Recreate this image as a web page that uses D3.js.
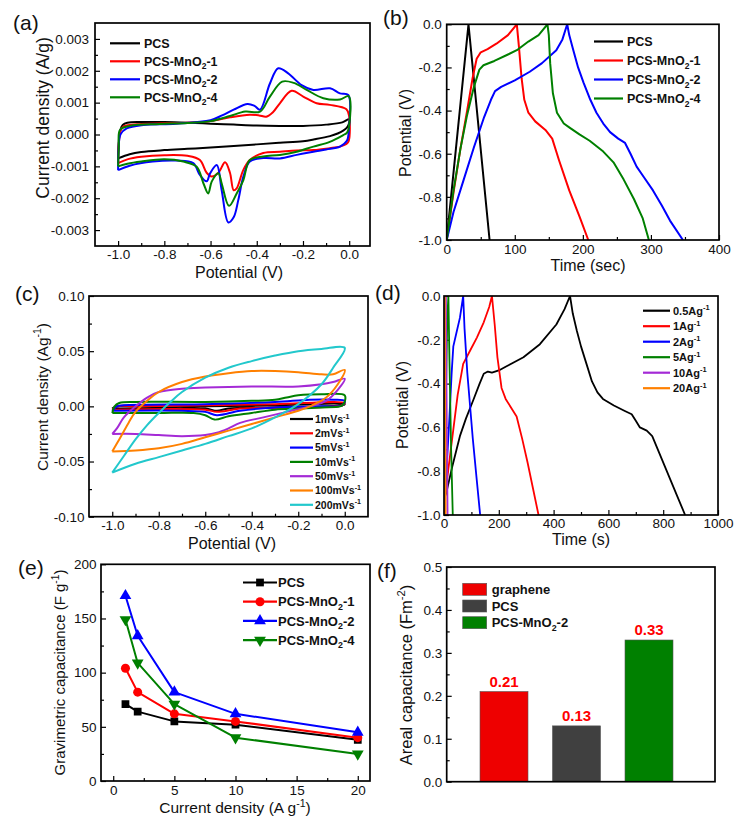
<!DOCTYPE html>
<html>
<head>
<meta charset="utf-8">
<script src="https://cdn.jsdelivr.net/npm/d3@7"></script>
<style>
  body { margin: 0; background: #fff; }
  text { font-family: "Liberation Sans", Arial, sans-serif; }
</style>
</head>
<body>
<svg id="fig" width="739" height="826"></svg>
<script>
// ---------- (a) CV curves, [potential V, current density A/g] ----------
var cvPCS = [[-1.0,-0.75e-3],[-0.997,-0.2e-3],[-0.99,0.15e-3],[-0.98,0.3e-3],[-0.96,0.37e-3],[-0.9,0.39e-3],[-0.8,0.39e-3],[-0.7,0.37e-3],[-0.6,0.34e-3],[-0.5,0.31e-3],[-0.4,0.28e-3],[-0.3,0.27e-3],[-0.2,0.27e-3],[-0.1,0.31e-3],[-0.03,0.38e-3],[0.0,0.48e-3],
  [-0.003,0.3e-3],[-0.012,0.2e-3],[-0.026,0.12e-3],[-0.05,0.03e-3],[-0.083,-0.05e-3],[-0.15,-0.15e-3],[-0.2,-0.21e-3],[-0.3,-0.26e-3],[-0.4,-0.31e-3],[-0.5,-0.36e-3],[-0.6,-0.41e-3],[-0.7,-0.45e-3],[-0.8,-0.49e-3],[-0.9,-0.55e-3],[-0.95,-0.62e-3],[-1.0,-0.75e-3]];
var cvMn1 = [[-1.0,-0.9e-3],[-0.997,-0.3e-3],[-0.99,0.1e-3],[-0.977,0.25e-3],[-0.9,0.33e-3],[-0.8,0.35e-3],[-0.7,0.37e-3],[-0.6,0.42e-3],[-0.516,0.54e-3],[-0.43,0.62e-3],[-0.39,0.6e-3],[-0.359,0.56e-3],[-0.33,0.7e-3],[-0.3,0.98e-3],[-0.249,1.37e-3],[-0.199,1.19e-3],[-0.141,0.98e-3],[-0.084,0.93e-3],[-0.012,0.79e-3],[0.0,0.56e-3],
  [-0.002,-0.2e-3],[-0.012,-0.3e-3],[-0.04,-0.38e-3],[-0.084,-0.43e-3],[-0.155,-0.49e-3],[-0.227,-0.5e-3],[-0.3,-0.54e-3],[-0.372,-0.58e-3],[-0.43,-0.8e-3],[-0.458,-1.11e-3],[-0.487,-1.69e-3],[-0.5,-1.75e-3],[-0.516,-1.2e-3],[-0.537,-0.87e-3],[-0.566,-1.2e-3],[-0.595,-1.32e-3],[-0.617,-1.2e-3],[-0.646,-0.8e-3],[-0.7,-0.67e-3],[-0.8,-0.65e-3],[-0.9,-0.7e-3],[-0.96,-0.78e-3],[-1.0,-0.9e-3]];
var cvMn2 = [[-1.0,-1.12e-3],[-0.998,-0.5e-3],[-0.99,0.0],[-0.963,0.19e-3],[-0.89,0.3e-3],[-0.75,0.34e-3],[-0.6,0.45e-3],[-0.55,0.6e-3],[-0.5,0.78e-3],[-0.44,0.96e-3],[-0.41,0.9e-3],[-0.386,0.78e-3],[-0.343,1.6e-3],[-0.307,2.08e-3],[-0.264,1.92e-3],[-0.206,1.55e-3],[-0.155,1.4e-3],[-0.083,1.45e-3],[-0.04,1.29e-3],[-0.004,1.24e-3],
  [-0.001,0.2e-3],[-0.01,-0.2e-3],[-0.04,-0.38e-3],[-0.1,-0.47e-3],[-0.155,-0.54e-3],[-0.227,-0.64e-3],[-0.3,-0.75e-3],[-0.372,-0.74e-3],[-0.43,-0.85e-3],[-0.458,-1.32e-3],[-0.48,-2.06e-3],[-0.5,-2.6e-3],[-0.523,-2.76e-3],[-0.552,-1.74e-3],[-0.573,-0.96e-3],[-0.602,-1.22e-3],[-0.617,-1.47e-3],[-0.646,-1.27e-3],[-0.675,-0.9e-3],[-0.746,-0.82e-3],[-0.85,-0.85e-3],[-0.95,-0.98e-3],[-1.0,-1.12e-3]];
var cvMn4 = [[-1.0,-1.0e-3],[-0.997,-0.4e-3],[-0.992,0.14e-3],[-0.949,0.27e-3],[-0.82,0.33e-3],[-0.7,0.36e-3],[-0.6,0.42e-3],[-0.516,0.58e-3],[-0.45,0.72e-3],[-0.386,0.72e-3],[-0.343,1.19e-3],[-0.29,1.66e-3],[-0.24,1.62e-3],[-0.184,1.4e-3],[-0.112,1.14e-3],[-0.04,1.1e-3],[-0.002,1.2e-3],
  [-0.001,0.25e-3],[-0.01,0.05e-3],[-0.026,-0.02e-3],[-0.084,-0.23e-3],[-0.155,-0.38e-3],[-0.227,-0.54e-3],[-0.3,-0.64e-3],[-0.372,-0.69e-3],[-0.43,-0.8e-3],[-0.458,-1.43e-3],[-0.487,-1.85e-3],[-0.52,-2.24e-3],[-0.552,-1.53e-3],[-0.566,-1.22e-3],[-0.595,-1.48e-3],[-0.61,-1.85e-3],[-0.631,-1.53e-3],[-0.66,-1.01e-3],[-0.718,-0.85e-3],[-0.8,-0.78e-3],[-0.9,-0.85e-3],[-0.96,-0.92e-3],[-1.0,-1.0e-3]];

// ---------- (b) GCD, [time s, potential V] ----------
var gcdPCS = [[0,-1.0],[32,0.0],[63,-1.0]];
var gcdMn1 = [[0,-1.0],[10,-0.78],[20,-0.58],[30,-0.4],[38,-0.25],[44,-0.16],[50,-0.13],[60,-0.115],[73,-0.09],[90,-0.05],[103,0.0],[106,-0.1],[110,-0.25],[114,-0.35],[120,-0.41],[130,-0.45],[145,-0.49],[155,-0.53],[165,-0.63],[180,-0.77],[195,-0.89],[208,-1.0]];
var gcdMn2 = [[0,-1.0],[10,-0.87],[25,-0.72],[40,-0.57],[55,-0.43],[65,-0.35],[71,-0.31],[80,-0.29],[100,-0.26],[122,-0.22],[140,-0.18],[161,-0.12],[170,-0.07],[177,0.0],[180,-0.05],[186,-0.12],[193,-0.2],[201,-0.27],[211,-0.35],[220,-0.41],[230,-0.46],[240,-0.5],[252,-0.53],[262,-0.55],[270,-0.6],[279,-0.66],[290,-0.71],[303,-0.77],[316,-0.84],[328,-0.91],[347,-1.0]];
var gcdMn4 = [[0,-1.0],[10,-0.77],[20,-0.58],[30,-0.42],[40,-0.29],[48,-0.21],[54,-0.19],[70,-0.17],[90,-0.14],[103,-0.12],[120,-0.08],[135,-0.05],[148,0.0],[150,-0.05],[152,-0.18],[156,-0.32],[162,-0.41],[172,-0.46],[181,-0.48],[195,-0.51],[210,-0.54],[230,-0.59],[245,-0.64],[260,-0.72],[275,-0.81],[288,-0.9],[297,-1.0]];

// ---------- (c) CV at scan rates, [potential V, current density A/g] ----------
var cv1 = [[-1.0,-0.002],[-0.98,0.0],[-0.6,0.0],[-0.3,0.001],[0.0,0.002],[-0.01,0.001],[-0.3,-0.001],[-0.5,-0.002],[-0.55,-0.004],[-0.6,-0.002],[-1.0,-0.002]];
var cv2 = [[-1.0,-0.003],[-0.98,0.0],[-0.9,0.0],[-0.6,0.001],[-0.3,0.002],[0.0,0.003],[-0.01,0.001],[-0.2,-0.001],[-0.45,-0.002],[-0.55,-0.005],[-0.6,-0.003],[-1.0,-0.003]];
var cv5 = [[-1.0,-0.004],[-0.98,0.0],[-0.95,0.001],[-0.6,0.002],[-0.3,0.004],[-0.15,0.006],[-0.05,0.006],[0.0,0.005],[-0.01,0.001],[-0.1,0.0],[-0.3,-0.001],[-0.45,-0.004],[-0.55,-0.008],[-0.6,-0.005],[-0.7,-0.004],[-1.0,-0.004]];
var cv10 = [[-1.0,-0.006],[-0.99,0.0],[-0.97,0.003],[-0.9,0.004],[-0.6,0.004],[-0.4,0.005],[-0.3,0.006],[-0.25,0.008],[-0.2,0.01],[-0.1,0.011],[0.0,0.01],[-0.005,0.002],[-0.02,0.0],[-0.1,-0.001],[-0.2,-0.002],[-0.3,-0.003],[-0.4,-0.006],[-0.5,-0.009],[-0.56,-0.012],[-0.6,-0.008],[-0.65,-0.006],[-0.8,-0.006],[-1.0,-0.006]];
var cv50 = [[-1.0,-0.025],[-0.98,-0.02],[-0.95,-0.01],[-0.9,0.0],[-0.85,0.008],[-0.8,0.013],[-0.7,0.016],[-0.6,0.017],[-0.4,0.018],[-0.2,0.018],[-0.1,0.02],[-0.05,0.022],[0.0,0.025],[-0.03,0.015],[-0.08,0.005],[-0.15,0.0],[-0.25,-0.005],[-0.35,-0.01],[-0.45,-0.015],[-0.5,-0.02],[-0.55,-0.024],[-0.6,-0.026],[-0.7,-0.027],[-0.8,-0.026],[-0.9,-0.025],[-1.0,-0.025]];
var cv100 = [[-1.0,-0.041],[-0.97,-0.03],[-0.93,-0.015],[-0.9,-0.005],[-0.85,0.005],[-0.8,0.013],[-0.7,0.022],[-0.6,0.027],[-0.5,0.03],[-0.4,0.032],[-0.3,0.032],[-0.2,0.031],[-0.1,0.029],[-0.05,0.029],[0.0,0.033],[-0.03,0.02],[-0.08,0.008],[-0.15,0.0],[-0.2,-0.004],[-0.3,-0.01],[-0.4,-0.016],[-0.5,-0.022],[-0.6,-0.028],[-0.7,-0.034],[-0.8,-0.038],[-0.9,-0.04],[-1.0,-0.041]];
var cv200 = [[-1.0,-0.06],[-0.95,-0.045],[-0.9,-0.03],[-0.85,-0.017],[-0.8,-0.006],[-0.75,0.004],[-0.7,0.013],[-0.6,0.026],[-0.5,0.035],[-0.4,0.041],[-0.3,0.046],[-0.2,0.05],[-0.1,0.052],[0.0,0.053],[-0.05,0.035],[-0.1,0.02],[-0.2,0.002],[-0.3,-0.01],[-0.4,-0.02],[-0.5,-0.027],[-0.6,-0.034],[-0.7,-0.04],[-0.8,-0.046],[-0.9,-0.052],[-1.0,-0.06]];

// ---------- (d) GCD at current densities, [time s, potential V] ----------
var gcd05 = [[0,-0.93],[10,-0.89],[30,-0.78],[58,-0.64],[80,-0.56],[107,-0.475],[130,-0.4],[145,-0.355],[160,-0.345],[175,-0.35],[200,-0.34],[230,-0.32],[290,-0.28],[350,-0.22],[410,-0.13],[440,-0.06],[460,0.0],[470,-0.08],[485,-0.16],[500,-0.23],[520,-0.31],[540,-0.39],[560,-0.44],[580,-0.47],[620,-0.5],[660,-0.525],[685,-0.54],[700,-0.57],[715,-0.6],[740,-0.615],[760,-0.64],[790,-0.73],[820,-0.82],[850,-0.91],[880,-1.0]];
var gcd1 = [[0,-1.0],[5,-0.9],[15,-0.8],[34,-0.61],[50,-0.45],[70,-0.31],[95,-0.25],[120,-0.19],[145,-0.12],[165,-0.05],[175,0.0],[185,-0.13],[195,-0.28],[210,-0.42],[225,-0.47],[245,-0.51],[265,-0.55],[285,-0.65],[305,-0.76],[325,-0.88],[345,-1.0]];
var gcd2 = [[0,-1.0],[10,-0.78],[20,-0.55],[28,-0.35],[34,-0.23],[45,-0.17],[58,-0.1],[70,0.0],[75,-0.15],[85,-0.35],[95,-0.5],[105,-0.65],[118,-0.82],[132,-1.0]];
var gcd5 = [[0,-1.0],[5,-0.6],[12,-0.1],[16,0.0],[20,-0.3],[26,-0.7],[32,-1.0]];
var gcd10 = [[0,-1.0],[4,-0.4],[7,0.0],[9,-0.4],[13,-1.0]];
var gcd20 = [[0,-1.0],[2,-0.4],[3,0.0],[4,-0.5],[6,-1.0]];

// ---------- (e) rate capability ----------
var rateX = [1, 2, 5, 10, 20];
var capPCS = [71, 64, 55, 52, 38];
var capMn1 = [104, 82, 62, 55, 40];
var capMn2 = [171, 134, 82, 62, 45];
var capMn4 = [149, 109, 71, 40, 25];

// ---------- (f) areal capacitance ----------
var arealCats = ["graphene", "PCS", "PCS-MnO_{2}-2"];
var arealVals = [0.21, 0.13, 0.33];

var FONT = '"Liberation Sans", Arial, sans-serif';
var svg = d3.select("#fig");

// text with _{sub} and ^{sup} pieces
function rich(t, str, fs) {
  var shift = 0;
  str.split(/([_^]\{[^}]*\})/).forEach(function(p) {
    if (!p) return;
    var ts = t.append("tspan");
    if (p[0] === "_" || p[0] === "^") {
      var d = p[0] === "_" ? fs * 0.28 : -fs * 0.4;
      ts.attr("dy", d - shift).attr("font-size", fs * 0.68).text(p.slice(2, -1));
      shift = d;
    } else {
      ts.attr("dy", -shift).text(p);
      shift = 0;
    }
  });
  return t;
}

function fmt(p) { return function(d) { return d3.format(p)(d).replace("\u2212", "-"); }; }

function styleAxis(a, fs) {
  a.select(".domain").remove();
  a.selectAll("text").attr("font-size", fs).attr("font-family", FONT).attr("fill", "#111");
  a.selectAll("line").attr("stroke", "#000").attr("stroke-width", 1.2);
}

function panel(o) {
  var g = svg.append("g");
  var l = o.xr[0], r = o.xr[1], b = o.y.range()[0], t = o.y.range()[1];
  g.append("clipPath").attr("id", "clip-" + o.id).append("rect")
    .attr("x", l).attr("y", t).attr("width", r - l).attr("height", b - t);
  if (o.xTicks) {
    g.append("g").attr("transform", "translate(0," + b + ")")
      .call(d3.axisBottom(o.x).tickValues(o.xTicks).tickSize(-5).tickPadding(o.xPad).tickFormat(o.xFmt))
      .call(styleAxis, o.fs);
    g.append("g").attr("transform", "translate(0," + b + ")")
      .call(d3.axisBottom(o.x).tickValues(o.xMinor).tickSize(-3).tickFormat(""))
      .call(styleAxis, o.fs);
  }
  g.append("g").attr("transform", "translate(" + l + ",0)")
    .call(d3.axisLeft(o.y).tickValues(o.yTicks).tickSize(-5).tickPadding(o.yPad).tickFormat(o.yFmt))
    .call(styleAxis, o.fs);
  g.append("g").attr("transform", "translate(" + l + ",0)")
    .call(d3.axisLeft(o.y).tickValues(o.yMinor).tickSize(-3).tickFormat(""))
    .call(styleAxis, o.fs);
  // titles
  if (o.xTitle) {
    rich(g.append("text").attr("x", o.xTitle[1]).attr("y", o.xTitle[2]).attr("text-anchor", "middle")
      .attr("font-size", o.xTitle[3]).attr("fill", "#111"), o.xTitle[0], o.xTitle[3]);
  }
  rich(g.append("text").attr("transform", "translate(" + o.yTitle[1] + "," + o.yTitle[2] + ") rotate(-90)")
    .attr("text-anchor", "middle").attr("dy", "0.35em").attr("font-size", o.yTitle[3]).attr("fill", "#111"),
    o.yTitle[0], o.yTitle[3]);
  g.append("text").attr("x", o.tag[1]).attr("y", o.tag[2]).attr("font-size", 21).attr("fill", "#111").text(o.tag[0]);
  o.g = g;
  o.plot = g.append("g").attr("clip-path", "url(#clip-" + o.id + ")");
  o.frame = function() {
    g.append("rect").attr("x", l).attr("y", t).attr("width", r - l).attr("height", b - t)
      .attr("fill", "none").attr("stroke", "#000").attr("stroke-width", 1.7);
  };
  return o;
}

function drawLines(p, series, curve, sw) {
  var line = d3.line().x(function(d) { return p.x(d[0]); }).y(function(d) { return p.y(d[1]); }).curve(curve);
  p.plot.selectAll("path.s").data(series).join("path").attr("class", "s")
    .attr("d", function(d) { return line(d.values); })
    .attr("fill", "none").attr("stroke", function(d) { return d.color; })
    .attr("stroke-width", sw).attr("stroke-linejoin", "round");
}

function lineLegend(p, series, x0, x1, tx, y0, dyRow, fs) {
  var lg = p.g.append("g");
  series.forEach(function(s, i) {
    var yy = y0 + i * dyRow;
    lg.append("line").attr("x1", x0).attr("x2", x1).attr("y1", yy).attr("y2", yy)
      .attr("stroke", s.color).attr("stroke-width", 2.2);
    if (s.symbol) {
      lg.append("path").attr("d", d3.symbol().type(s.symbol).size(s.size)())
        .attr("transform", "translate(" + ((x0 + x1) / 2) + "," + yy + ")" + (s.flip ? " rotate(180)" : ""))
        .attr("fill", s.color);
    }
    rich(lg.append("text").attr("x", tx).attr("y", yy + fs * 0.36).attr("font-size", fs)
      .attr("font-weight", "bold").attr("fill", "#111"), s.name, fs);
  });
}

var smooth = d3.curveCatmullRom.alpha(0.5);

// ===== (a) =====
var pa = panel({
  id: "a", x: d3.scaleLinear([-1.1, 0.09], [95, 370]), xr: [95, 370],
  y: d3.scaleLinear([-0.0035, 0.0035], [246, 23]), fs: 13.5,
  xTicks: [-1.0, -0.8, -0.6, -0.4, -0.2, 0.0], xMinor: [-0.9, -0.7, -0.5, -0.3, -0.1], xPad: 3.5, xFmt: fmt(".1f"),
  yTicks: [-0.003, -0.002, -0.001, 0, 0.001, 0.002, 0.003], yMinor: [-0.0025, -0.0015, -0.0005, 0.0005, 0.0015, 0.0025], yPad: 6, yFmt: fmt(".3f"),
  xTitle: ["Potential (V)", 239, 278, 16], yTitle: ["Current density (A/g)", 49, 118, 17.5], tag: ["(a)", 13, 30]
});
var serA = [
  { name: "PCS", color: "#000000", values: cvPCS },
  { name: "PCS-MnO_{2}-1", color: "#ff0000", values: cvMn1 },
  { name: "PCS-MnO_{2}-2", color: "#0000ff", values: cvMn2 },
  { name: "PCS-MnO_{2}-4", color: "#008000", values: cvMn4 }
];
drawLines(pa, serA, smooth, 2);
lineLegend(pa, serA, 110, 140, 144, 43.3, 18, 12.5);
pa.frame();

// ===== (b) =====
var pb = panel({
  id: "b", x: d3.scaleLinear([0, 400], [446.7, 719]), xr: [446.7, 719],
  y: d3.scaleLinear([-1, 0], [240, 24.3]), fs: 13.5,
  xTicks: [0, 100, 200, 300, 400], xMinor: [50, 150, 250, 350], xPad: 4.5, xFmt: fmt("d"),
  yTicks: [-1, -0.8, -0.6, -0.4, -0.2, 0], yMinor: [-0.9, -0.7, -0.5, -0.3, -0.1], yPad: 5, yFmt: fmt(".1f"),
  xTitle: ["Time (sec)", 588, 271, 16], yTitle: ["Potential (V)", 410.5, 133, 16], tag: ["(b)", 383, 25]
});
var serB = [
  { name: "PCS", color: "#000000", values: gcdPCS },
  { name: "PCS-MnO_{2}-1", color: "#ff0000", values: gcdMn1 },
  { name: "PCS-MnO_{2}-2", color: "#0000ff", values: gcdMn2 },
  { name: "PCS-MnO_{2}-4", color: "#008000", values: gcdMn4 }
];
drawLines(pb, serB, d3.curveLinear, 2);
lineLegend(pb, serB, 594, 623, 627, 41.5, 19, 12.5);
pb.frame();

// ===== (c) =====
var pc = panel({
  id: "c", x: d3.scaleLinear([-1.1, 0.1], [89, 368]), xr: [89, 368],
  y: d3.scaleLinear([-0.1, 0.1], [516.7, 296]), fs: 13.5,
  xTicks: [-1.0, -0.8, -0.6, -0.4, -0.2, 0.0], xMinor: [-0.9, -0.7, -0.5, -0.3, -0.1], xPad: 3.5, xFmt: fmt(".1f"),
  yTicks: [-0.1, -0.05, 0, 0.05, 0.1], yMinor: [-0.075, -0.025, 0.025, 0.075], yPad: 4.5, yFmt: fmt(".2f"),
  xTitle: ["Potential (V)", 232, 549, 16], yTitle: ["Current density (Ag^{-1})", 47.5, 397, 15.5], tag: ["(c)", 15, 301]
});
var serC = [
  { name: "1mVs^{-1}", color: "#000000", values: cv1 },
  { name: "2mVs^{-1}", color: "#ff0000", values: cv2 },
  { name: "5mVs^{-1}", color: "#0000ff", values: cv5 },
  { name: "10mVs^{-1}", color: "#008000", values: cv10 },
  { name: "50mVs^{-1}", color: "#a42ad6", values: cv50 },
  { name: "100mVs^{-1}", color: "#ff8000", values: cv100 },
  { name: "200mVs^{-1}", color: "#22c8cc", values: cv200 }
];
drawLines(pc, serC, smooth, 2);
lineLegend(pc, serC, 290, 313, 315, 419, 14.3, 10.5);
pc.frame();

// ===== (d) =====
var pd = panel({
  id: "d", x: d3.scaleLinear([0, 1000], [444, 718]), xr: [444, 718],
  y: d3.scaleLinear([-1, 0], [515, 296]), fs: 13.5,
  xTicks: [0, 200, 400, 600, 800, 1000], xMinor: [100, 300, 500, 700, 900], xPad: 3, xFmt: fmt("d"),
  yTicks: [-1, -0.8, -0.6, -0.4, -0.2, 0], yMinor: [-0.9, -0.7, -0.5, -0.3, -0.1], yPad: 3.5, yFmt: fmt(".1f"),
  xTitle: ["Time (s)", 581, 545, 16], yTitle: ["Potential (V)", 408, 405, 16], tag: ["(d)", 375, 300]
});
var serD = [
  { name: "0.5Ag^{-1}", color: "#000000", values: gcd05 },
  { name: "1Ag^{-1}", color: "#ff0000", values: gcd1 },
  { name: "2Ag^{-1}", color: "#0000ff", values: gcd2 },
  { name: "5Ag^{-1}", color: "#008000", values: gcd5 },
  { name: "10Ag^{-1}", color: "#a42ad6", values: gcd10 },
  { name: "20Ag^{-1}", color: "#ff8000", values: gcd20 }
];
drawLines(pd, serD, d3.curveLinear, 1.8);
lineLegend(pd, serD, 643, 670, 673, 310.7, 15.5, 11);
pd.frame();

// ===== (e) =====
var pe = panel({
  id: "e", x: d3.scaleLinear([-1, 21], [101, 370]), xr: [101, 370],
  y: d3.scaleLinear([0, 200], [781, 564.3]), fs: 13.5,
  xTicks: [0, 5, 10, 15, 20], xMinor: [2.5, 7.5, 12.5, 17.5], xPad: 4.5, xFmt: fmt("d"),
  yTicks: [0, 50, 100, 150, 200], yMinor: [25, 75, 125, 175], yPad: 4.5, yFmt: fmt("d"),
  xTitle: ["Current density (A g^{-1})", 235, 813, 15.5], yTitle: ["Gravimetric capacitance (F g^{-1})", 65, 672.5, 15], tag: ["(e)", 18, 575]
});
var serE = [
  { name: "PCS", color: "#000000", vals: capPCS, symbol: d3.symbolSquare, size: 60 },
  { name: "PCS-MnO_{2}-1", color: "#ff0000", vals: capMn1, symbol: d3.symbolCircle, size: 64 },
  { name: "PCS-MnO_{2}-2", color: "#0000ff", vals: capMn2, symbol: d3.symbolTriangle, size: 60 },
  { name: "PCS-MnO_{2}-4", color: "#008000", vals: capMn4, symbol: d3.symbolTriangle, size: 60, flip: true }
];
serE.forEach(function(s) { s.values = rateX.map(function(x, i) { return [x, s.vals[i]]; }); });
drawLines(pe, serE, d3.curveLinear, 2);
serE.forEach(function(s) {
  pe.plot.append("g").selectAll("path").data(s.values).join("path")
    .attr("d", d3.symbol().type(s.symbol).size(s.size)())
    .attr("transform", function(d) { return "translate(" + pe.x(d[0]) + "," + pe.y(d[1]) + ")" + (s.flip ? " rotate(180)" : ""); })
    .attr("fill", s.color);
});
lineLegend(pe, serE, 243, 277, 278, 582.5, 19.2, 13);
pe.frame();

// ===== (f) =====
var pf = panel({
  id: "f", x: d3.scaleBand(arealCats, [455.5, 697.5]).padding(0.338), xr: [446.7, 715],
  y: d3.scaleLinear([0, 0.5], [781.7, 567]), fs: 13.5,
  yTicks: [0, 0.1, 0.2, 0.3, 0.4, 0.5], yMinor: [0.05, 0.15, 0.25, 0.35, 0.45], yPad: 4.5, yFmt: fmt(".1f"),
  yTitle: ["Areal capacitance (Fm^{-2})", 411.5, 675, 16.5], tag: ["(f)", 377, 578]
});
var barColors = ["#ee0000", "#404040", "#008000"];
pf.plot.selectAll("rect.bar").data(arealCats).join("rect").attr("class", "bar")
  .attr("x", function(d) { return pf.x(d); })
  .attr("y", function(d, i) { return pf.y(arealVals[i]); })
  .attr("width", pf.x.bandwidth())
  .attr("height", function(d, i) { return pf.y(0) - pf.y(arealVals[i]); })
  .attr("fill", function(d, i) { return barColors[i]; })
  .attr("stroke", "#555").attr("stroke-width", 0.6);
pf.g.selectAll("text.val").data(arealCats).join("text").attr("class", "val")
  .attr("x", function(d) { return pf.x(d) + pf.x.bandwidth() / 2; })
  .attr("y", function(d, i) { return pf.y(arealVals[i]) - 5; })
  .attr("text-anchor", "middle").attr("font-size", 15).attr("font-weight", "bold").attr("fill", "#ff0000")
  .text(function(d, i) { return d3.format(".2f")(arealVals[i]); });
var lgf = pf.g.append("g");
arealCats.forEach(function(c, i) {
  var yy = 583.3 + i * 16.7;
  lgf.append("rect").attr("x", 462.7).attr("y", yy).attr("width", 24).attr("height", 12)
    .attr("fill", barColors[i]).attr("stroke", "#555").attr("stroke-width", 0.6);
  rich(lgf.append("text").attr("x", 491.7).attr("y", yy + 10.5).attr("font-size", 13)
    .attr("font-weight", "bold").attr("fill", "#111"), c, 13);
});
pf.frame();
</script>
</body>
</html>
